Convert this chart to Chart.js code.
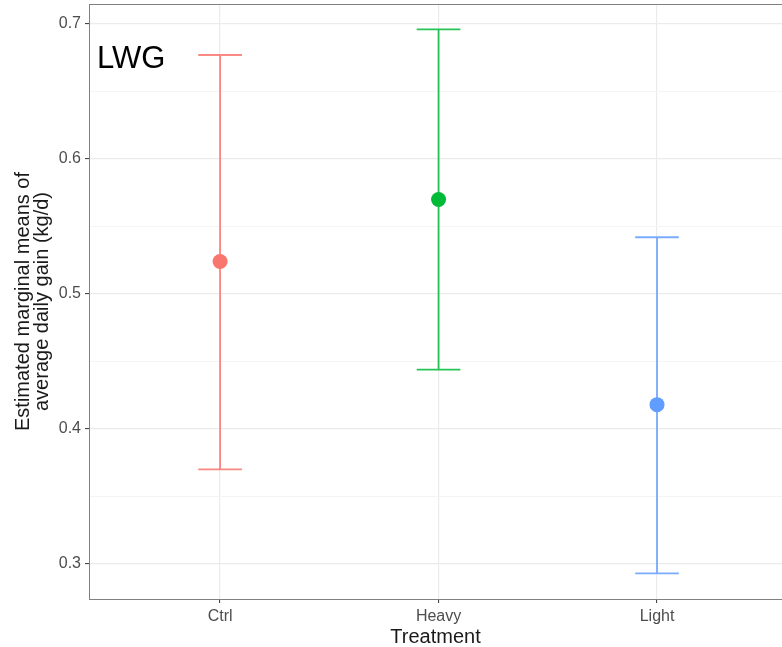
<!DOCTYPE html>
<html>
<head>
<meta charset="utf-8">
<script src="https://cdn.jsdelivr.net/npm/chart.js@4.4.1/dist/chart.umd.min.js"></script>
<style>
  html, body { margin: 0; padding: 0; background: #fff; }
  #wrap { position: relative; width: 782px; height: 647px; }
</style>
</head>
<body>
<div id="wrap"><canvas id="chart"></canvas></div>
<script>
'use strict';

// data
const treatments = ['Ctrl', 'Heavy', 'Light'];
const emmeans = [0.524, 0.570, 0.418];
const lowerCI = [0.370, 0.444, 0.293];
const upperCI = [0.677, 0.696, 0.542];
const colors = ['#F8766D', '#00BA38', '#619CFF'];
const barColors = ['rgba(248,118,109,0.85)', 'rgba(0,186,56,0.85)', 'rgba(97,156,255,0.85)'];
const yTicks = [0.3, 0.35, 0.4, 0.45, 0.5, 0.55, 0.6, 0.65, 0.7];
const panelLabel = 'LWG';

const capHalf = 0.1; // half width of error bar caps, in category units

function isMajor(v) {
    return Math.abs(v * 10 - Math.round(v * 10)) < 1e-6;
}

// no extra room for the outer tick labels, the panel fills its box
function noPadding(axis) {
    axis.paddingTop = 0;
    axis.paddingBottom = 0;
    axis.paddingLeft = 0;
    axis.paddingRight = 0;
}

// one line dataset per treatment: top cap, whisker, bottom cap
const barSets = treatments.map((t, i) => ({
    type: 'line',
    label: t + ' CI',
    data: [
        { x: i - capHalf, y: upperCI[i] }, { x: i + capHalf, y: upperCI[i] }, { x: i, y: null },
        { x: i, y: upperCI[i] }, { x: i, y: lowerCI[i] }, { x: i + capHalf, y: null },
        { x: i - capHalf, y: lowerCI[i] }, { x: i + capHalf, y: lowerCI[i] }
    ],
    borderColor: barColors[i],
    borderWidth: 1.8,
    pointRadius: 0,
    spanGaps: false,
    tension: 0,
    order: 2
}));

const pointSet = {
    type: 'scatter',
    label: 'emmean',
    data: treatments.map((t, i) => ({ x: i, y: emmeans[i] })),
    backgroundColor: colors,
    borderColor: colors,
    pointRadius: 7.5,
    pointHoverRadius: 7.5,
    borderWidth: 0,
    order: 1
};

// panel border and LWG label drawn on top
const panelDeco = {
    id: 'panelDeco',
    afterDraw(chart) {
        const { ctx, chartArea } = chart;
        ctx.save();
        ctx.strokeStyle = '#808080';
        ctx.lineWidth = 1;
        ctx.strokeRect(chartArea.left + 0.5, chartArea.top + 0.5,
            chartArea.right - chartArea.left + 5, chartArea.bottom - chartArea.top);
        ctx.fillStyle = '#000';
        ctx.font = '31px "Liberation Sans", Arial, sans-serif';
        ctx.textBaseline = 'alphabetic';
        ctx.fillText(panelLabel, chartArea.left + 8, chartArea.top + 64);
        ctx.restore();
    }
};

const tickFont = { family: '"Liberation Sans", Arial, sans-serif', size: 16 };
const titleFont = { family: '"Liberation Sans", Arial, sans-serif', size: 20, lineHeight: 0.95 };

new Chart(document.getElementById('chart').getContext('2d'), {
    data: { datasets: [...barSets, pointSet] },
    options: {
        responsive: true,
        maintainAspectRatio: false,
        animation: false,
        layout: { autoPadding: false, padding: { top: 4, right: 0, left: 0, bottom: 0 } },
        plugins: {
            legend: { display: false },
            tooltip: { enabled: false }
        },
        scales: {
            x: {
                type: 'linear',
                min: -0.6,
                max: 2.572,
                afterBuildTicks: (axis) => { axis.ticks = treatments.map((t, i) => ({ value: i })); },
                afterFit: (axis) => { axis.height = 48; noPadding(axis); },
                ticks: {
                    callback: (v) => treatments[Math.round(v)],
                    color: '#4d4d4d',
                    font: tickFont,
                    padding: 4,
                    maxRotation: 0
                },
                grid: {
                    color: '#ebebeb',
                    lineWidth: 1.2,
                    tickColor: '#333',
                    tickLength: 4,
                    tickWidth: 1
                },
                border: { display: false },
                title: {
                    display: true,
                    text: 'Treatment',
                    color: '#1a1a1a',
                    font: titleFont,
                    padding: { top: 0, bottom: 0 }
                }
            },
            y: {
                type: 'linear',
                min: 0.274,
                max: 0.7148,
                afterBuildTicks: (axis) => { axis.ticks = yTicks.map((v) => ({ value: v })); },
                afterFit: (axis) => { axis.width = 89; noPadding(axis); },
                ticks: {
                    callback: (v) => isMajor(v) ? v.toFixed(1) : '',
                    color: '#4d4d4d',
                    font: tickFont,
                    padding: 4
                },
                grid: {
                    color: (c) => isMajor(c.tick.value) ? '#ebebeb' : '#f4f4f4',
                    lineWidth: (c) => isMajor(c.tick.value) ? 1.2 : 1,
                    tickColor: (c) => isMajor(c.tick.value) ? '#333' : 'rgba(0,0,0,0)',
                    tickLength: 4,
                    tickWidth: 1
                },
                border: { display: false },
                title: {
                    display: true,
                    text: ['Estimated marginal means of', 'average daily gain (kg/d)'],
                    color: '#1a1a1a',
                    font: titleFont,
                    padding: { top: 14, bottom: 0 }
                }
            }
        }
    },
    plugins: [panelDeco]
});
</script>
</body>
</html>
